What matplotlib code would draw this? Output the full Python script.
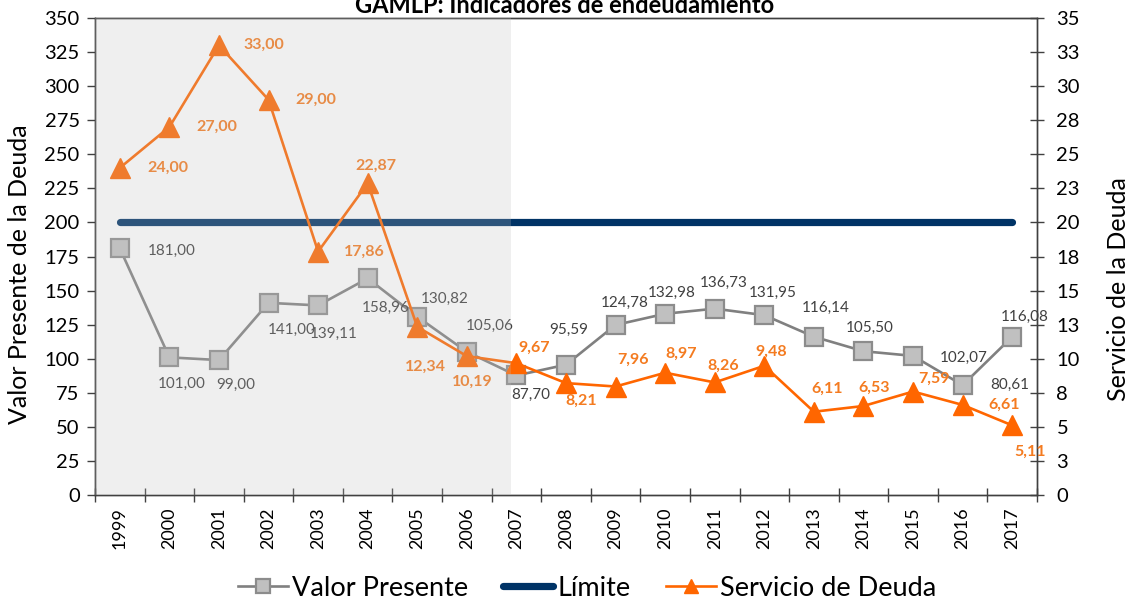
import matplotlib
matplotlib.use("Agg")
import matplotlib.pyplot as plt
import numpy as np

years = ["1999", "2000", "2001", "2002", "2003", "2004", "2005", "2006", "2007",
         "2008", "2009", "2010", "2011", "2012", "2013", "2014", "2015", "2016", "2017"]
valor_presente = [181.00, 101.00, 99.00, 141.00, 139.11, 158.96, 130.82, 105.06, 87.70,
                  95.59, 124.78, 132.98, 136.73, 131.95, 116.14, 105.50, 102.07, 80.61, 116.08]
servicio_deuda = [24.00, 27.00, 33.00, 29.00, 17.86, 22.87, 12.34, 10.19, 9.67,
                  8.21, 7.96, 8.97, 8.26, 9.48, 6.11, 6.53, 7.59, 6.61, 5.11]
limite = [200] * len(years)
left_ticks = list(range(0, 351, 25))
right_ticks = [0, 2.5, 5, 7.5, 10, 12.5, 15, 17.5, 20, 22.5, 25, 27.5, 30, 32.5, 35]
right_tick_labels = ["0", "3", "5", "8", "10", "13", "15", "18", "20", "23", "25", "28", "30", "33", "35"]
shade_end = 7.9

# label offsets (pixels) -- styling only
vp_off = [(52, -3), (12, -27), (17, -25), (23, -27), (16, -28), (18, -30), (27, 18), (23, 26), (14, -19),
          (3, 35), (9, 22), (7, 21), (9, 26), (8, 22), (12, 29), (6, 23), (51, -2), (47, 0), (13, 20)]
sd_off = [(48, 0), (47, 0), (45, 0), (47, 0), (46, 0), (8, 18), (8, -40), (5, -26), (18, 15),
          (15, -18), (17, 27), (16, 19), (8, 17), (7, 14), (13, 23), (11, 18), (21, 13), (41, 0), (18, -26)]

FONT = "Lato"
plt.rcParams["font.family"] = [FONT, "DejaVu Sans"]

fig = plt.figure(figsize=(11.30, 6.01), dpi=100)
X0, X1, YT, YB = 95, 1037, 18, 495
ax = fig.add_axes([X0 / 1130, 1 - YB / 601, (X1 - X0) / 1130, (YB - YT) / 601])
ax2 = ax.twinx()

x = np.arange(len(years))

ax.plot(x, limite, color="#003366", lw=5.2, solid_capstyle="round", zorder=2, label="Límite")
ax.plot(x, valor_presente, color="#808080", lw=1.9, marker="s", markersize=13,
        markerfacecolor="#C0C0C0", markeredgecolor="#8C8C8C", markeredgewidth=1.6, zorder=3,
        label="Valor Presente")
ax2.plot(x, servicio_deuda, color="#FF6600", lw=1.9, marker="^", markersize=14,
         markerfacecolor="#FF6600", markeredgecolor="#FF6600", zorder=4, label="Servicio de Deuda")

def fmt(v):
    return f"{v:.2f}".replace(".", ",")

for xi, v, (dx, dy) in zip(x, valor_presente, vp_off):
    ax.annotate(fmt(v), (xi, v), xytext=(dx, dy), textcoords="offset pixels",
                ha="center", va="center", fontsize=11, color="#404040", zorder=6)
for xi, v, (dx, dy) in zip(x, servicio_deuda, sd_off):
    ax2.annotate(fmt(v), (xi, v), xytext=(dx, dy), textcoords="offset pixels",
                 ha="center", va="center", fontsize=11.5, color="#F47B20", fontweight="bold", zorder=4.5)

# translucent shaded band over the first period
ax2.axvspan(-0.5, shade_end, color="#C0C0C0", alpha=0.24, zorder=5, lw=0)

ax.set_xlim(-0.5, len(years) - 0.5)
ax.set_ylim(0, 350)
ax2.set_ylim(0, 35)
ax.set_yticks(left_ticks)
ax.set_yticklabels([str(t) for t in left_ticks])
ax2.set_yticks(right_ticks)
ax2.set_yticklabels(right_tick_labels)
ax.set_xticks(x)
ax.set_xticklabels(years, rotation=90)
ax.set_xticks(np.arange(-0.5, len(years)), minor=True)

ax.tick_params(axis="x", which="major", length=0, labelsize=13, pad=9, colors="#000000")
ax.tick_params(axis="x", which="minor", length=10, direction="inout", width=1.0, color="#404040")
ax.tick_params(axis="y", length=6, direction="out", width=1.0, color="#404040", labelsize=14.5, pad=5)
ax2.tick_params(axis="y", length=10, direction="inout", width=1.0, color="#404040", labelsize=14.5, pad=9)

for a in (ax, ax2):
    for s in a.spines.values():
        s.set_color("#404040")
        s.set_linewidth(1.0)

ax.set_ylabel("Valor Presente de la Deuda", fontsize=18)
ax2.set_ylabel("Servicio de la Deuda", fontsize=18)
W, H = X1 - X0, YB - YT
ax.yaxis.label.set_va("center")
ax.yaxis.label.set_ha("center")
ax.yaxis.set_label_coords((20 - X0) / W, (YB - 274) / H)
ax2.yaxis.label.set_va("center")
ax2.yaxis.label.set_ha("center")
ax2.yaxis.set_label_coords((1118 - X0) / W, (YB - 289) / H)

fig.text(0.5, 1 - 13 / 601, "GAMLP: Indicadores de endeudamiento", ha="center", va="baseline",
         fontsize=17, fontweight="bold")

h1, l1 = ax.get_legend_handles_labels()
h2, l2 = ax2.get_legend_handles_labels()
handles = [h1[1], h1[0], h2[0]]
labels = [l1[1], l1[0], l2[0]]
fig.legend(handles, labels, loc="center", bbox_to_anchor=(587 / 1130, 1 - 588 / 601), ncol=3, frameon=False,
           fontsize=19.5, handlelength=1.85, columnspacing=1.3, handletextpad=0.15, markerscale=0.75)

fig.savefig("out.png", dpi=100)
